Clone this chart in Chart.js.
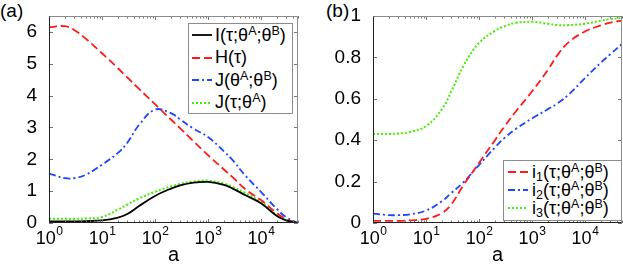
<!DOCTYPE html>
<html>
<head>
<meta charset="utf-8">
<script src="https://cdn.jsdelivr.net/npm/chart.js@4.4.1/dist/chart.umd.min.js"></script>
<style>
  body { margin: 0; background: #fff; width: 623px; height: 270px; overflow: hidden; position: relative;
         font-family: 'Liberation Sans', Arial, sans-serif; }
  canvas { position: absolute; top: 0; }
  #chartA { left: 0; }
  #chartB { left: 311px; }
  .panel { position: absolute; top: 0; font-size: 19px; line-height: 21px; }
  .legend { position: absolute; background: #fff; border: 1px solid #8c8c8c; box-sizing: border-box; }
  .legend .row { position: absolute; height: 20px; display: flex; align-items: center; white-space: nowrap;
                 font-size: 18px; color: #000; }
  .legend svg { width: 20px; height: 10px; flex: none; }
  .legend sup, .legend sub { font-size: 12.5px; line-height: 0; }
  .legend sup { vertical-align: 6px; }
  .legend sub { vertical-align: -3px; }
</style>
</head>
<body>
<div class="panel" style="left:0px">(a)</div>
<div class="panel" style="left:326px">(b)</div>
<canvas id="chartA" width="311" height="270"></canvas>
<canvas id="chartB" width="312" height="270"></canvas>
<div class="legend" id="legendA" style="left:188px;top:23px;width:105px;height:91px"></div>
<div class="legend" id="legendB" style="left:503px;top:160px;width:119px;height:61px"></div>

<script>
// x values (a), shared by every curve
const aValues = [1, 2, 3, 5, 10, 20, 30, 50, 100, 200, 300, 500, 1000, 2000, 3000, 5000, 10000, 20000, 30000, 50000];

// panel (a)
const mutualI  = [0.05, 0.05, 0.05, 0.06, 0.08, 0.17, 0.28, 0.53, 0.85, 1.08, 1.18, 1.26, 1.29, 1.20, 1.07, 0.88, 0.62, 0.22, 0.08, 0.0];
const entropyH = [6.15, 6.18, 6.06, 5.78, 5.33, 4.86, 4.57, 4.21, 3.73, 3.25, 2.97, 2.61, 2.13, 1.68, 1.42, 1.07, 0.72, 0.31, 0.12, 0.0];
const jointAB  = [1.55, 1.41, 1.41, 1.52, 1.83, 2.20, 2.52, 3.08, 3.56, 3.45, 3.25, 2.99, 2.70, 2.25, 1.95, 1.50, 0.98, 0.44, 0.18, 0.0];
const jointTauA = [0.13, 0.13, 0.13, 0.14, 0.19, 0.42, 0.58, 0.77, 0.98, 1.15, 1.23, 1.30, 1.33, 1.24, 1.12, 0.95, 0.66, 0.25, 0.09, 0.0];

// panel (b)
const i1Vals = [0.010, 0.010, 0.010, 0.013, 0.020, 0.048, 0.090, 0.180, 0.290, 0.400, 0.465, 0.540, 0.635, 0.740, 0.810, 0.875, 0.925, 0.955, 0.968, 0.978];
const i2Vals = [0.045, 0.038, 0.038, 0.042, 0.060, 0.105, 0.145, 0.195, 0.280, 0.365, 0.410, 0.455, 0.505, 0.550, 0.577, 0.622, 0.700, 0.775, 0.815, 0.865];
const i3Vals = [0.430, 0.430, 0.432, 0.440, 0.468, 0.550, 0.635, 0.755, 0.870, 0.928, 0.950, 0.967, 0.972, 0.962, 0.956, 0.956, 0.963, 0.977, 0.985, 0.990];

// ticks
const xTickExponents = [0, 1, 2, 3, 4];
const leftYTicks = [0, 1, 2, 3, 4, 5, 6];
const rightYTicks = [0, 0.2, 0.4, 0.6, 0.8, 1];

const legendA = [
  'I(τ;θ<sup>A</sup>;θ<sup>B</sup>)',
  'H(τ)',
  'J(θ<sup>A</sup>;θ<sup>B</sup>)',
  'J(τ;θ<sup>A</sup>)'
];
const legendB = [
  'i<sub>1</sub>(τ;θ<sup>A</sup>;θ<sup>B</sup>)',
  'i<sub>2</sub>(τ;θ<sup>A</sup>;θ<sup>B</sup>)',
  'i<sub>3</sub>(τ;θ<sup>A</sup>;θ<sup>B</sup>)'
];

const FONT = "'Liberation Sans', Arial, sans-serif";
const styles = {
  black: { color: '#000000', dash: [], width: 1.8 },
  red:   { color: '#ff1a1a', dash: [8, 4], width: 1.8 },
  blue:  { color: '#1f45ff', dash: [7, 3, 2, 3], width: 1.8 },
  green: { color: '#44ee00', dash: [2, 2], width: 2 }
};

function series(values, style) {
  const s = styles[style];
  return {
    data: aValues.map(function (a, i) { return { x: a, y: values[i] }; }),
    borderColor: s.color,
    borderDash: s.dash,
    borderWidth: s.width,
    pointRadius: 0,
    tension: 0.4,
    fill: false
  };
}

const framePlugin = {
  id: 'frame',
  afterDraw: function (chart) {
    const ctx = chart.ctx;
    const area = chart.chartArea;
    const xs = chart.scales.x;
    const ys = chart.scales.y;
    ctx.save();
    ctx.strokeStyle = '#777';
    ctx.lineWidth = 1;
    ctx.beginPath();
    for (let e = 0; e <= 4; e++) {
      for (let m = 1; m <= 9; m++) {
        const v = m * Math.pow(10, e);
        if (v > xs.max) break;
        const px = Math.round(xs.getPixelForValue(v)) + 0.5;
        const len = m === 1 ? 4 : 2.5;
        ctx.moveTo(px, area.bottom); ctx.lineTo(px, area.bottom - len);
        ctx.moveTo(px, area.top); ctx.lineTo(px, area.top + len);
      }
    }
    ys.ticks.forEach(function (t) {
      const py = Math.round(ys.getPixelForValue(t.value)) + 0.5;
      ctx.moveTo(area.left, py); ctx.lineTo(area.left + 4, py);
      ctx.moveTo(area.right, py); ctx.lineTo(area.right - 4, py);
    });
    ctx.stroke();

    // box: top/right lighter, left/bottom dark
    const l = Math.round(area.left) + 0.5, r = Math.round(area.right) - 0.5;
    const t = Math.round(area.top) + 0.5, b = Math.round(area.bottom) - 0.5;
    ctx.strokeStyle = '#8c8c8c';
    ctx.beginPath();
    ctx.moveTo(l, t); ctx.lineTo(r, t); ctx.lineTo(r, b);
    ctx.stroke();
    ctx.strokeStyle = '#222';
    ctx.beginPath();
    ctx.moveTo(l, t); ctx.lineTo(l, b); ctx.lineTo(r, b);
    ctx.stroke();

    // x tick labels 10^n
    ctx.fillStyle = '#000';
    ctx.textBaseline = 'alphabetic';
    ctx.textAlign = 'left';
    xTickExponents.forEach(function (e) {
      const px = xs.getPixelForValue(Math.pow(10, e));
      ctx.font = '18px ' + FONT;
      const w1 = ctx.measureText('10').width;
      ctx.font = '12px ' + FONT;
      const w2 = ctx.measureText(String(e)).width;
      const x0 = px - (w1 + w2) / 2;
      ctx.font = '18px ' + FONT;
      ctx.fillText('10', x0, 243.5);
      ctx.font = '12px ' + FONT;
      ctx.fillText(String(e), x0 + w1 + 0.5, 235);
    });
    ctx.restore();
  }
};

function makeChart(id, datasets, yMax, yTicks, yWidth, padRight) {
  return new Chart(document.getElementById(id), {
    type: 'line',
    data: { datasets: datasets },
    plugins: [framePlugin],
    options: {
      responsive: false,
      animation: false,
      devicePixelRatio: 1,
      layout: { padding: { top: 16, right: padRight, left: 0, bottom: 0 } },
      plugins: { legend: { display: false }, tooltip: { enabled: false } },
      scales: {
        x: {
          type: 'logarithmic',
          min: 1,
          max: 50000,
          grid: { display: false },
          border: { display: false },
          ticks: { display: false },
          title: { display: true, text: 'a', color: '#000', font: { family: FONT, size: 20 }, padding: { top: 0, bottom: 3 } },
          afterFit: function (scale) { scale.height = 47; }
        },
        y: {
          min: 0,
          max: yMax,
          afterBuildTicks: function (scale) {
            scale.ticks = yTicks.map(function (v) { return { value: v }; });
          },
          grid: { display: false },
          border: { display: false },
          ticks: {
            color: '#000',
            padding: 4,
            font: { family: FONT, size: 19 },
            callback: function (v) { return String(+v.toFixed(1)); }
          },
          afterFit: function (scale) { scale.width = yWidth; }
        }
      }
    }
  });
}

makeChart('chartA', [
  series(mutualI, 'black'),
  series(entropyH, 'red'),
  series(jointAB, 'blue'),
  series(jointTauA, 'green')
], 6.5, leftYTicks, 49, 13);

makeChart('chartB', [
  series(i1Vals, 'red'),
  series(i2Vals, 'blue'),
  series(i3Vals, 'green')
], 1, rightYTicks, 62, 1);

function buildLegend(id, labels, keys, rowCenters, lineLeft, textGap) {
  const box = document.getElementById(id);
  labels.forEach(function (label, i) {
    const s = styles[keys[i]];
    const row = document.createElement('div');
    row.className = 'row';
    row.style.top = (rowCenters[i] - 11) + 'px';
    row.style.left = lineLeft + 'px';
    row.innerHTML =
      '<svg viewBox="0 0 20 10"><line x1="0" y1="5" x2="20" y2="5" stroke="' + s.color +
      '" stroke-width="' + s.width + '" stroke-dasharray="' + (s.dash.join(',') || 'none') + '"/></svg>' +
      '<span style="margin-left:' + textGap + 'px">' + label + '</span>';
    box.appendChild(row);
  });
}

buildLegend('legendA', legendA, ['black', 'red', 'blue', 'green'], [12, 34.5, 57, 79.5], 3, 3);
buildLegend('legendB', legendB, ['red', 'blue', 'green'], [12, 30, 48], 4, 4);
</script>
</body>
</html>
